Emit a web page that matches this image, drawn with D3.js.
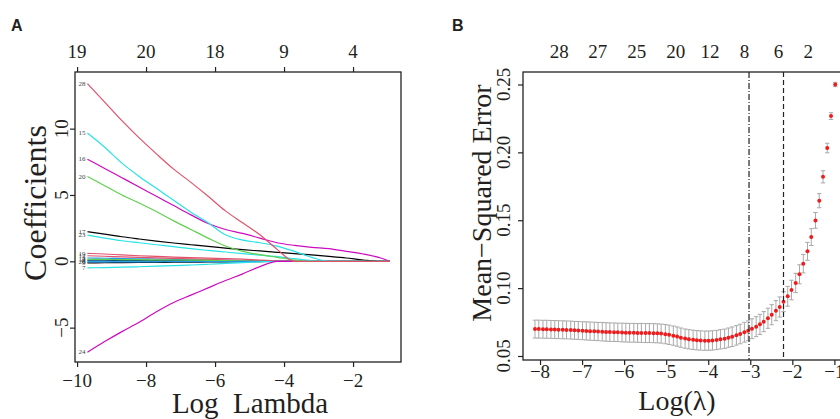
<!DOCTYPE html>
<html>
<head>
<meta charset="utf-8">
<script src="https://d3js.org/d3.v7.min.js"></script>
<style>
body { margin:0; background:#fff; }
text { font-family:"Liberation Serif","Times New Roman",serif; fill:#231f20; }
</style>
</head>
<body>
<div id="chart"></div>
<script>
// ---- panel A : coefficient paths ----
var logLambdaA = [-9.7,-9.2,-8.7,-8.2,-7.7,-7.2,-6.7,-6.2,-5.7,-5.2,-4.7,-4.2,-3.7,-3.2,-2.7,-2.2,-1.7,-1.2,-0.93];

var coef28 = [13.4,12.0,10.6,9.3,8.1,6.95,5.95,4.9,3.8,2.9,2.0,0.9,0,0,0,0,0,0,0];
var coef15 = [9.67,8.6,7.4,6.4,5.5,4.6,3.7,2.9,2.0,1.6,1.4,1.15,0.75,0.3,0,0,0,0,0];
var coef16 = [7.7,7.0,6.3,5.6,4.9,4.2,3.5,2.85,2.4,2.1,1.75,1.4,1.2,1.05,0.95,0.75,0.55,0.25,0];
var coef20 = [6.4,5.7,5.0,4.4,3.75,3.05,2.4,1.75,1.15,0.75,0.5,0.3,0.1,0,0,0,0,0,0];
var coef17 = [2.23,2.05,1.85,1.68,1.52,1.38,1.25,1.12,1.0,0.88,0.78,0.68,0.58,0.48,0.37,0.25,0.1,0,0];
var coef23 = [1.98,1.75,1.55,1.4,1.25,1.1,0.95,0.82,0.7,0.58,0.47,0.35,0.2,0.05,0,0,0,0,0];
var coef19 = [0.6,0.55,0.48,0.42,0.37,0.32,0.28,0.24,0.2,0.16,0.1,0.04,0,0,0,0,0,0,0];
var coef12 = [0.42,0.38,0.34,0.3,0.26,0.22,0.18,0.14,0.1,0.06,0.03,0,0,0,0,0,0,0,0];
var coef3  = [0.25,0.23,0.21,0.19,0.17,0.15,0.13,0.11,0.09,0.06,0.03,0,0,0,0,0,0,0,0];
var coef14 = [0.15,0.14,0.13,0.12,0.11,0.1,0.09,0.07,0.05,0.03,0.01,0,0,0,0,0,0,0,0];
var coef2  = [0.08,0.08,0.07,0.07,0.06,0.06,0.05,0.05,0.04,0.03,0.02,0.01,0,0,0,0,0,0,0];
var coef5  = [0.02,0.02,0.02,0.02,0.02,0.01,0.01,0.01,0.01,0.01,0,0,0,0,0,0,0,0,0];
var coef26 = [-0.05,-0.05,-0.04,-0.04,-0.04,-0.03,-0.03,-0.02,-0.02,-0.01,0,0,0,0,0,0,0,0,0];
var coef9  = [-0.12,-0.11,-0.1,-0.09,-0.08,-0.07,-0.06,-0.05,-0.04,-0.03,-0.02,-0.01,0,0,0,0,0,0,0];
var coef7  = [-0.5,-0.47,-0.44,-0.41,-0.37,-0.33,-0.28,-0.22,-0.16,-0.1,-0.04,0,0,0,0,0,0,0,0];
var coef24 = [-6.85,-6.05,-5.3,-4.6,-3.8,-3.1,-2.55,-2.0,-1.45,-0.95,-0.4,0,0,0,0,0,0,0,0];

var pathLabels = ["2","3","5","9","12","14","26","19","7","24","23","17","20","16","15","28"];
var pathValues = [coef2,coef3,coef5,coef9,coef12,coef14,coef26,coef19,coef7,coef24,coef23,coef17,coef20,coef16,coef15,coef28];
var pathColors = ["#000000","#2297E6","#2297E6","#000000","#DF536B","#61D04F","#2297E6","#DF536B","#28E2E5","#CD0BBC","#28E2E5","#000000","#61D04F","#CD0BBC","#28E2E5","#DF536B"];

var ticksA = [-10,-8,-6,-4,-2];
var topLabelsA = ["19","20","18","9","4"];
var yTicksA = [-5,0,5,10];

// ---- panel B : cross-validation curve ----
var logLambdaB = [-8.12,-8.03,-7.93,-7.84,-7.74,-7.65,-7.56,-7.46,-7.37,-7.27,
  -7.18,-7.09,-6.99,-6.90,-6.81,-6.71,-6.62,-6.52,-6.43,-6.34,
  -6.24,-6.15,-6.05,-5.96,-5.87,-5.77,-5.68,-5.59,-5.49,-5.40,
  -5.30,-5.21,-5.12,-5.02,-4.93,-4.83,-4.74,-4.65,-4.55,-4.46,
  -4.36,-4.27,-4.18,-4.08,-3.99,-3.90,-3.80,-3.71,-3.61,-3.52,
  -3.43,-3.33,-3.24,-3.14,-3.05,-2.96,-2.86,-2.77,-2.68,-2.58,
  -2.49,-2.39,-2.30,-2.21,-2.11,-2.02,-1.92,-1.83,-1.74,-1.64,
  -1.55,-1.45,-1.36,-1.27,-1.17,-1.08,-0.98];
var cvm = [0.0698,0.0698,0.0697,0.0697,0.0696,0.0695,0.0694,0.0693,0.0692,0.0691,
  0.0689,0.0688,0.0686,0.0685,0.0683,0.0682,0.0680,0.0679,0.0677,0.0676,
  0.0675,0.0674,0.0673,0.0672,0.0671,0.0671,0.0670,0.0670,0.0669,0.0669,
  0.0668,0.0667,0.0665,0.0661,0.0656,0.0650,0.0643,0.0635,0.0628,0.0623,
  0.0619,0.0616,0.0614,0.0613,0.0613,0.0615,0.0618,0.0623,0.0627,0.0635,
  0.0642,0.0652,0.0662,0.0675,0.0686,0.0701,0.0716,0.0733,0.0753,0.0778,
  0.0804,0.0834,0.0861,0.0900,0.0940,0.0986,0.1038,0.1102,0.1180,0.1271,
  0.1376,0.1499,0.1644,0.1820,0.2032,0.2267,0.2500];
var cvsd = [0.0066,0.0066,0.0066,0.0066,0.0066,0.0066,0.0066,0.0066,0.0066,0.0066,
  0.0066,0.0066,0.0066,0.0067,0.0067,0.0067,0.0067,0.0068,0.0068,0.0068,
  0.0068,0.0068,0.0069,0.0069,0.0069,0.0069,0.0069,0.0070,0.0070,0.0070,
  0.0070,0.0070,0.0070,0.0071,0.0071,0.0071,0.0071,0.0071,0.0071,0.0071,
  0.0071,0.0071,0.0071,0.0071,0.0071,0.0071,0.0071,0.0071,0.0071,0.0071,
  0.0072,0.0072,0.0072,0.0073,0.0073,0.0073,0.0074,0.0074,0.0074,0.0074,
  0.0074,0.0074,0.0074,0.0073,0.0073,0.0072,0.0071,0.0070,0.0068,0.0066,
  0.0062,0.0058,0.0052,0.0045,0.0035,0.0025,0.0016];

var lambdaMin = -3.03, lambda1se = -2.21;
var nzeroAt = [-7.54,-6.63,-5.70,-4.77,-3.96,-3.14,-2.33,-1.62];
var nzeroLabels = ["28","27","25","20","12","8","6","2"];
var ticksB = [-8,-7,-6,-5,-4,-3,-2,-1];
var yTicksB = [0.05,0.10,0.15,0.20,0.25];

var W = 840, H = 419;
var svg = d3.select("#chart").append("svg").attr("width", W).attr("height", H);

// panel letters
svg.append("text").attr("x", 11).attr("y", 31).text("A")
   .style("font-family","Liberation Sans, Arial, sans-serif").style("font-weight","bold").style("font-size","16px");
svg.append("text").attr("x", 452).attr("y", 31).text("B")
   .style("font-family","Liberation Sans, Arial, sans-serif").style("font-weight","bold").style("font-size","16px");

// ===== Panel A =====
var xA = d3.scaleLinear().domain([-10.06, -0.61]).range([75, 401]);
var yA = d3.scaleLinear().domain([-7.59, 14.27]).range([362, 72]);

var gA = svg.append("g");

var line = d3.line()
  .x(function(d, i){ return xA(logLambdaA[i]); })
  .y(function(d){ return yA(d); })
  .curve(d3.curveMonotoneX);

gA.selectAll("path.coef").data(pathValues).enter().append("path")
  .attr("class","coef")
  .attr("d", line)
  .attr("fill","none")
  .attr("stroke", function(d,i){ return pathColors[i]; })
  .attr("stroke-width", 1.2);

gA.selectAll("text.plab").data(pathValues).enter().append("text")
  .attr("class","plab")
  .attr("x", xA(logLambdaA[0]) - 2)
  .attr("y", function(d){ return yA(d[0]); })
  .attr("dy","0.32em")
  .attr("text-anchor","end")
  .style("font-size","7px")
  .style("fill","#444")
  .text(function(d,i){ return pathLabels[i]; });

gA.append("g").attr("transform","translate(0,362)")
  .call(d3.axisBottom(xA).tickValues(ticksA).tickSize(5).tickSizeOuter(0).tickFormat(""))
  .call(function(g){ g.select(".domain").remove(); g.selectAll("line").attr("stroke","#222").attr("stroke-width",1.2); });
gA.append("g").attr("transform","translate(0,72)")
  .call(d3.axisTop(xA).tickValues(ticksA).tickSize(5).tickSizeOuter(0).tickFormat(""))
  .call(function(g){ g.select(".domain").remove(); g.selectAll("line").attr("stroke","#222").attr("stroke-width",1.2); });
gA.append("g").attr("transform","translate(75,0)")
  .call(d3.axisLeft(yA).tickValues(yTicksA).tickSize(5).tickSizeOuter(0).tickFormat(""))
  .call(function(g){ g.select(".domain").remove(); g.selectAll("line").attr("stroke","#222").attr("stroke-width",1.2); });

gA.selectAll("text.xbA").data(ticksA).enter().append("text")
  .attr("x", function(d){ return xA(d); }).attr("y", 387)
  .attr("text-anchor","middle").style("font-size","19px")
  .text(d3.format("d"));
gA.selectAll("text.xtA").data(ticksA).enter().append("text")
  .attr("x", function(d){ return xA(d); }).attr("y", 58)
  .attr("text-anchor","middle").style("font-size","19px")
  .text(function(d,i){ return topLabelsA[i]; });
gA.selectAll("text.ytA").data(yTicksA).enter().append("text")
  .attr("transform", function(d){ return "translate(62," + yA(d) + ") rotate(-90)"; })
  .attr("text-anchor","middle").attr("dy","0.32em").style("font-size","19px")
  .text(d3.format("d"));

gA.append("rect").attr("x",75).attr("y",72).attr("width",326).attr("height",290)
  .attr("fill","none").attr("stroke","#222").attr("stroke-width",1.3);

gA.append("text").attr("transform","translate(46,203) rotate(-90)")
  .attr("text-anchor","middle").style("font-size","32px").text("Coefficients");
gA.append("text").attr("x",250).attr("y",413)
  .attr("text-anchor","middle").style("font-size","29px").style("white-space","pre")
  .text("Log  Lambda");

// ===== Panel B =====
var xB = d3.scaleLinear().domain([-8.405, -0.70]).range([523, 847]);
var yB = d3.scaleLinear().domain([0.04705, 0.2592]).range([360, 72]);

var gB = svg.append("g");

// error bars
var bars = gB.selectAll("g.eb").data(cvm).enter().append("g").attr("class","eb")
  .attr("stroke","#a9a9a9").attr("stroke-width",1);
bars.append("line")
  .attr("x1", function(d,i){ return xB(logLambdaB[i]); })
  .attr("x2", function(d,i){ return xB(logLambdaB[i]); })
  .attr("y1", function(d,i){ return yB(d + cvsd[i]); })
  .attr("y2", function(d,i){ return yB(d - cvsd[i]); });
bars.append("line")
  .attr("x1", function(d,i){ return xB(logLambdaB[i]) - 2.2; })
  .attr("x2", function(d,i){ return xB(logLambdaB[i]) + 2.2; })
  .attr("y1", function(d,i){ return yB(d + cvsd[i]); })
  .attr("y2", function(d,i){ return yB(d + cvsd[i]); });
bars.append("line")
  .attr("x1", function(d,i){ return xB(logLambdaB[i]) - 2.2; })
  .attr("x2", function(d,i){ return xB(logLambdaB[i]) + 2.2; })
  .attr("y1", function(d,i){ return yB(d - cvsd[i]); })
  .attr("y2", function(d,i){ return yB(d - cvsd[i]); });

gB.selectAll("circle").data(cvm).enter().append("circle")
  .attr("cx", function(d,i){ return xB(logLambdaB[i]); })
  .attr("cy", function(d){ return yB(d); })
  .attr("r", 2)
  .attr("fill","#ee1c1c");

gB.append("line").attr("x1",xB(lambdaMin)).attr("x2",xB(lambdaMin)).attr("y1",72).attr("y2",360)
  .attr("stroke","#222").attr("stroke-width",1.2).attr("stroke-dasharray","6,2,1,2");
gB.append("line").attr("x1",xB(lambda1se)).attr("x2",xB(lambda1se)).attr("y1",72).attr("y2",360)
  .attr("stroke","#222").attr("stroke-width",1.2).attr("stroke-dasharray","5,3");

gB.append("g").attr("transform","translate(0,360)")
  .call(d3.axisBottom(xB).tickValues(ticksB).tickSize(5).tickSizeOuter(0).tickFormat(""))
  .call(function(g){ g.select(".domain").remove(); g.selectAll("line").attr("stroke","#222").attr("stroke-width",1.2); });
gB.append("g").attr("transform","translate(523,0)")
  .call(d3.axisLeft(yB).tickValues(yTicksB).tickSize(5).tickSizeOuter(0).tickFormat(""))
  .call(function(g){ g.select(".domain").remove(); g.selectAll("line").attr("stroke","#222").attr("stroke-width",1.2); });

gB.selectAll("text.xbB").data(ticksB).enter().append("text")
  .attr("x", function(d){ return xB(d); }).attr("y", 378)
  .attr("text-anchor","middle").style("font-size","19px")
  .text(d3.format("d"));
gB.selectAll("text.xtB").data(nzeroAt).enter().append("text")
  .attr("x", function(d){ return xB(d); }).attr("y", 58)
  .attr("text-anchor","middle").style("font-size","19px")
  .text(function(d,i){ return nzeroLabels[i]; });
gB.selectAll("text.ytB").data(yTicksB).enter().append("text")
  .attr("transform", function(d){ return "translate(504," + yB(d) + ") rotate(-90)"; })
  .attr("text-anchor","middle").attr("dy","0.32em").style("font-size","19px")
  .text(d3.format(".2f"));

gB.append("rect").attr("x",523).attr("y",72).attr("width",324).attr("height",288)
  .attr("fill","none").attr("stroke","#222").attr("stroke-width",1.3);

gB.append("text").attr("transform","translate(491,203) rotate(-90)")
  .attr("text-anchor","middle").style("font-size","28px").text("Mean\u2212Squared Error");
gB.append("text").attr("x",677).attr("y",410)
  .attr("text-anchor","middle").style("font-size","28px").text("Log(\u03bb)");
</script>
</body>
</html>
